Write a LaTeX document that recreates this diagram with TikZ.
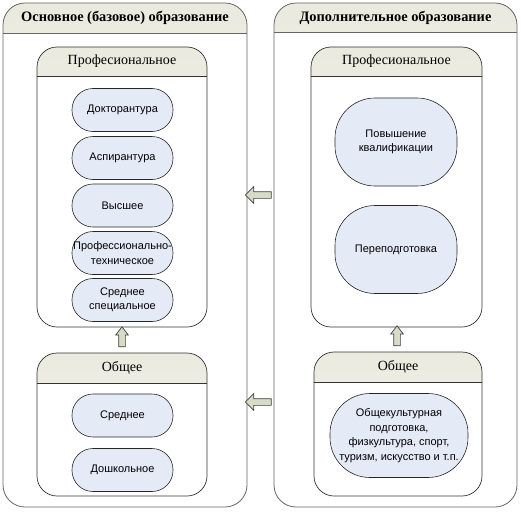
\documentclass[tikz,border=0pt]{standalone}
\usepackage{fontspec}
\setmainfont{Liberation Serif}
\setsansfont{Liberation Sans}
\usetikzlibrary{shapes.arrows}

\definecolor{pillblue}{RGB}{229,235,246}
\definecolor{arrowgreen}{RGB}{215,220,198}
\definecolor{headfill}{RGB}{234,234,223}

\tikzset{
  outerline/.style={draw=black!60, line width=0.8pt},
  innerline/.style={draw=black!80, line width=0.7pt},
  headtitle/.style={font=\fontsize{14.4}{17}\selectfont\bfseries},
  subtitle/.style={font=\fontsize{14}{16}\selectfont},
  pill/.style={draw=black!85, fill=pillblue, line width=0.6pt, align=center,
    font=\sffamily\fontsize{11}{14.5}\selectfont, inner sep=1pt,
    minimum width=101pt, minimum height=43pt, rounded corners=21pt},
  bigpill/.style={pill, minimum width=122pt, minimum height=88pt, rounded corners=40pt},
  leftarrow/.style={single arrow, shape border rotate=180, draw=black!75, fill=arrowgreen,
    line width=0.7pt, inner sep=3pt, single arrow head extend=5pt, minimum height=26pt},
  uparrow/.style={single arrow, shape border rotate=90, draw=black!75, fill=arrowgreen,
    line width=0.7pt, inner sep=3pt, single arrow head extend=3pt,
    single arrow tip angle=75, minimum height=20pt}
}

\begin{document}
\begin{tikzpicture}[x=1pt, y=-1pt]
    \useasboundingbox (0,0) rectangle (521,511);

    % Основное образование
    \begin{scope}
        \clip (0,0) rectangle (250,33);
        \shade[top color=headfill, bottom color=headfill!45!white, rounded corners=22pt] (3,3) rectangle (247,507);
    \end{scope}
    \draw[outerline, rounded corners=22pt] (3,3) rectangle (247,507);
    \draw[outerline] (3,33) -- (247,33);
    \node[headtitle] (osnTitle) at (125,18) {Основное (базовое) образование};

    % Дополнительное образование
    \begin{scope}
        \clip (270,0) rectangle (521,32);
        \shade[top color=headfill, bottom color=headfill!45!white, rounded corners=22pt] (274,3) rectangle (517,507);
    \end{scope}
    \draw[outerline, rounded corners=22pt] (274,3) rectangle (517,507);
    \draw[outerline] (274,32) -- (517,32);
    \node[headtitle] (dopTitle) at (395.5,18) {Дополнительное образование};

    % Профессиональное (слева)
    \begin{scope}
        \clip (30,40) rectangle (215,76);
        \shade[top color=headfill, bottom color=headfill!45!white, rounded corners=20pt] (37,47) rectangle (207,327);
    \end{scope}
    \draw[innerline, rounded corners=20pt] (37,47) rectangle (207,327);
    \draw[innerline] (37,76) -- (207,76);
    \node[subtitle] (profL) at (122,61.5) {Професиональное};

    \node[pill] (doktor) at (122.5,110) {Докторантура};
    \node[pill] (aspir) at (122.5,158) {Аспирантура};
    \node[pill] (vysh) at (122.5,205.5) {Высшее};
    \node[pill] (proftech) at (122.5,253) {Профессионально-\\техническое};
    \node[pill] (srspec) at (122.5,300) {Среднее\\специальное};

    % Общее (слева)
    \node[uparrow] (upL) at (122,339) {};
    \begin{scope}
        \clip (30,345) rectangle (215,383);
        \shade[top color=headfill, bottom color=headfill!45!white, rounded corners=20pt] (37,353) rectangle (207,496);
    \end{scope}
    \draw[innerline, rounded corners=20pt] (37,353) rectangle (207,496);
    \draw[innerline] (37,383) -- (207,383);
    \node[subtitle] (obshL) at (122,368) {Общее};

    \node[pill] (sredn) at (122.5,415.5) {Среднее};
    \node[pill] (doshk) at (122.5,470) {Дошкольное};

    % Профессиональное (справа)
    \begin{scope}
        \clip (305,40) rectangle (490,76);
        \shade[top color=headfill, bottom color=headfill!45!white, rounded corners=20pt] (311,47) rectangle (482,327);
    \end{scope}
    \draw[innerline, rounded corners=20pt] (311,47) rectangle (482,327);
    \draw[innerline] (311,76) -- (482,76);
    \node[subtitle] (profR) at (396.5,61.5) {Професиональное};

    \node[bigpill] (povysh) at (396,142) {Повышение\\квалификации};
    \node[bigpill] (perepodg) at (396,249.5) {Переподготовка};

    % Общее (справа)
    \node[uparrow] (upR) at (397,338) {};
    \begin{scope}
        \clip (305,345) rectangle (490,382);
        \shade[top color=headfill, bottom color=headfill!45!white, rounded corners=20pt] (314,352) rectangle (482,496);
    \end{scope}
    \draw[innerline, rounded corners=20pt] (314,352) rectangle (482,496);
    \draw[innerline] (314,382) -- (482,382);
    \node[subtitle] (obshR) at (398,367) {Общее};

    \node[bigpill, minimum width=138pt, minimum height=84pt, rounded corners=40pt] (obshkult) at (399,435.5)
        {Общекультурная\\подготовка,\\физкультура, спорт,\\туризм, искусство и т.п.};

    % стрелки между блоками
    \node[leftarrow] (arrTop) at (260,195) {};
    \node[leftarrow] (arrBot) at (260,402) {};
\end{tikzpicture}
\end{document}
